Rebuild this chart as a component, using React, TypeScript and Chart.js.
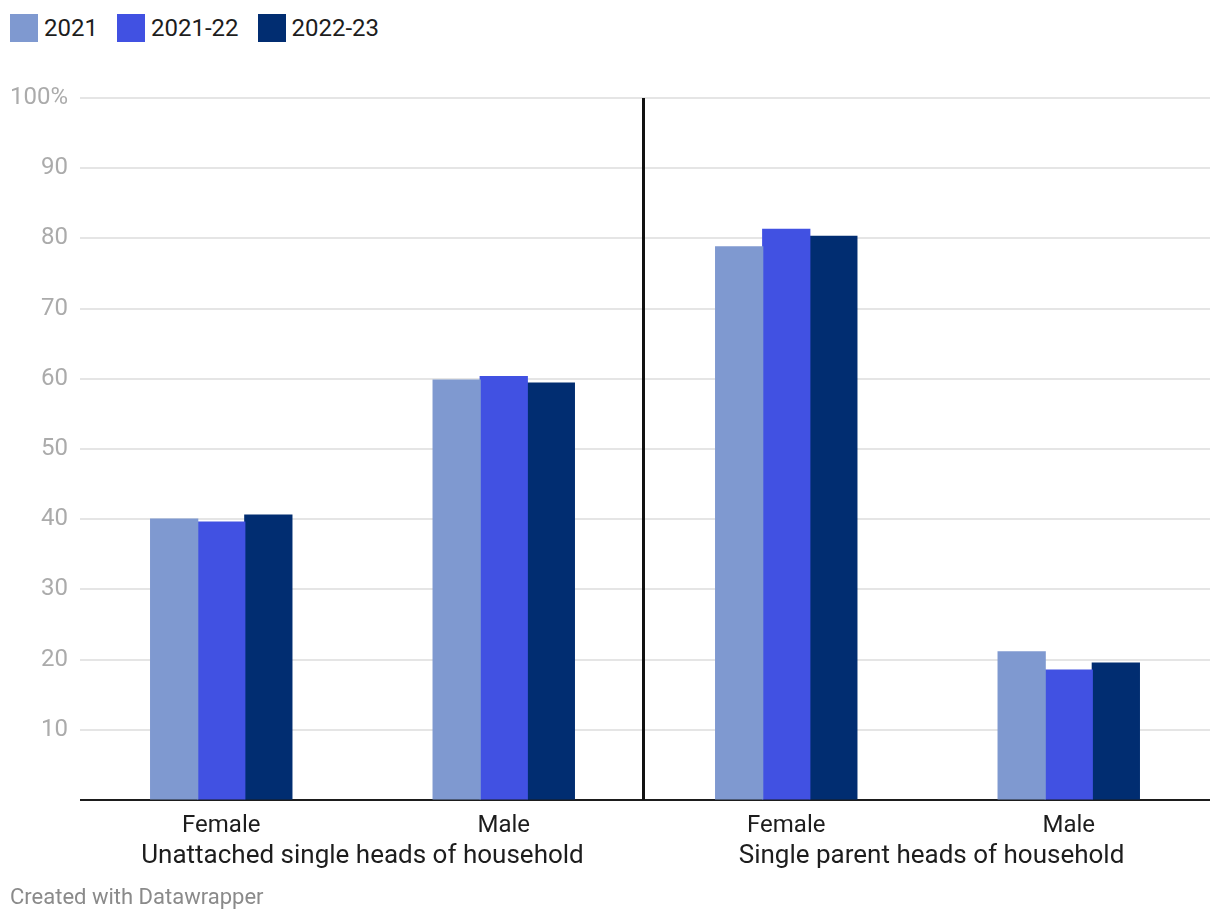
import React, { useEffect, useRef } from "react";
import { Chart, registerables } from "chart.js";

Chart.register(...registerables);

const categories = ["Female", "Male", "Female", "Male"];
const groupLabels = ["Unattached single heads of household", "Single parent heads of household"];
const seriesLabels = ["2021", "2021-22", "2022-23"];
const values2021 = [40.0, 59.8, 78.8, 21.1];
const values2122 = [39.6, 60.3, 81.3, 18.5];
const values2223 = [40.6, 59.4, 80.3, 19.5];
const seriesColors = ["#7f99d0", "#4151e2", "#012d71"];
const yTicks = [0, 10, 20, 30, 40, 50, 60, 70, 80, 90, 100];

const FONT = "Roboto, 'Noto Sans', sans-serif";

const extrasPlugin = {
  id: "extras",
  afterDraw(chart: any) {
    const { ctx, chartArea, scales } = chart;
    const x = scales.x;
    const divX = (x.getPixelForValue(1) + x.getPixelForValue(2)) / 2 - 1.5;
    ctx.save();
    ctx.strokeStyle = "#111";
    ctx.lineWidth = 3;
    ctx.beginPath();
    ctx.moveTo(divX, chartArea.top);
    ctx.lineTo(divX, chartArea.bottom);
    ctx.stroke();
    ctx.fillStyle = "#1d1d1d";
    ctx.font = `26px ${FONT}`;
    ctx.textAlign = "center";
    ctx.textBaseline = "middle";
    const g1 = (x.getPixelForValue(0) + x.getPixelForValue(1)) / 2;
    const g2 = (x.getPixelForValue(2) + x.getPixelForValue(3)) / 2;
    ctx.fillText(groupLabels[0], g1, chartArea.bottom + 56);
    ctx.fillText(groupLabels[1], g2 + 4, chartArea.bottom + 56);
    ctx.restore();
  },
};

export default function App() {
  const canvasRef = useRef<HTMLCanvasElement | null>(null);

  useEffect(() => {
    const datasets = [values2021, values2122, values2223].map((vals, i) => ({
      label: seriesLabels[i],
      data: vals,
      backgroundColor: seriesColors[i],
      borderColor: seriesColors[i],
      borderWidth: 0,
      inflateAmount: 0.6,
      categoryPercentage: 0.5,
      barPercentage: 1.0,
    }));
    const chart = new Chart(canvasRef.current as HTMLCanvasElement, {
      type: "bar",
      data: { labels: categories, datasets },
      plugins: [extrasPlugin],
      options: {
        animation: false,
        responsive: false,
        devicePixelRatio: 1,
        layout: { padding: { top: 98, right: 10, left: 0, bottom: 0 } },
        plugins: {
          legend: { display: false },
          tooltip: { enabled: false },
        },
        scales: {
          x: {
            grid: { display: false },
            border: { display: false },
            ticks: {
              color: "#1d1d1d",
              font: { family: FONT, size: 24 },
              padding: 4,
              maxRotation: 0,
            },
            afterFit(scale: any) {
              scale.height = 122;
            },
          },
          y: {
            min: 0,
            max: 100,
            afterBuildTicks(scale: any) {
              scale.ticks = yTicks.map((v) => ({ value: v }));
            },
            grid: {
              drawTicks: false,
              color: (c: any) => (c.tick && c.tick.value === 0 ? "#1d1d1d" : "#e5e5e5"),
              lineWidth: 2,
            },
            border: { display: false },
            ticks: {
              color: "#ababab",
              font: { family: FONT, size: 24 },
              padding: 12,
              callback: (v: any) => (v === 100 ? "100%" : v === 0 ? "" : String(v)),
            },
            afterFit(scale: any) {
              scale.width = 80;
            },
          },
        },
      },
    });
    return () => chart.destroy();
  }, []);

  return (
    <div
      style={{
        position: "absolute",
        left: 0,
        top: 0,
        width: 1220,
        height: 922,
        background: "#fff",
        fontFamily: FONT,
      }}
    >
      <div
        style={{
          position: "absolute",
          left: 10,
          top: 14,
          display: "flex",
          alignItems: "center",
          height: 28,
          fontSize: 24,
          color: "#1d1d1d",
        }}
      >
        {seriesLabels.map((lab, i) => (
          <div key={lab} style={{ display: "flex", alignItems: "center", marginRight: 19 }}>
            <span style={{ width: 28, height: 28, background: seriesColors[i], display: "inline-block", marginRight: 6 }} />
            <span style={{ lineHeight: "28px" }}>{lab}</span>
          </div>
        ))}
      </div>
      <canvas ref={canvasRef} width={1220} height={922} style={{ position: "absolute", left: 0, top: 0 }} />
      <div
        style={{
          position: "absolute",
          left: 10,
          top: 883,
          fontSize: 22,
          lineHeight: "28px",
          color: "#8a8a8a",
        }}
      >
        Created with Datawrapper
      </div>
    </div>
  );
}
